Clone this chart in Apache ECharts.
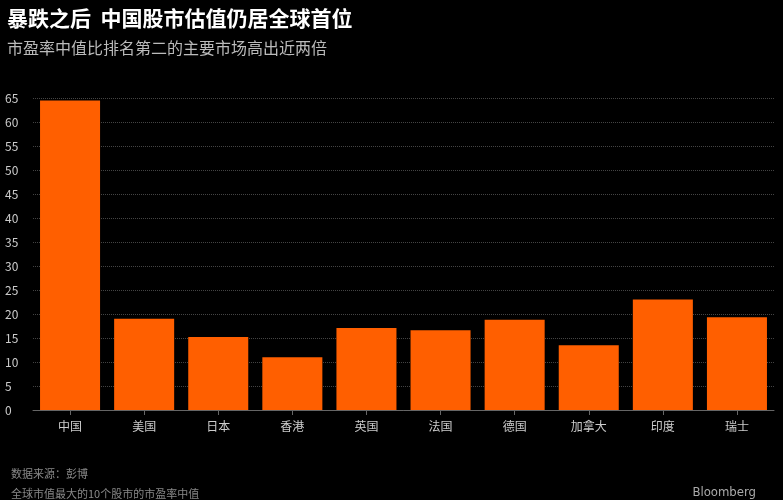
<!DOCTYPE html><html><head><meta charset="utf-8">
<script src="https://cdn.jsdelivr.net/npm/echarts@6/dist/echarts.min.js"></script>
<style>html,body{margin:0;background:#000}#c{width:783px;height:500px}</style></head><body><div id="c"></div>
<script>
const categories=['中国','美国','日本','香港','英国','法国','德国','加拿大','印度','瑞士'];
const peValues=[64.5,19,15.2,11,17.1,16.6,18.8,13.5,23,19.3];
const f='"Noto Sans CJK SC", sans-serif';
const chart=echarts.init(document.getElementById('c'));
chart.setOption({
 backgroundColor:'#000',animation:false,
 title:[
  {text:'暴跌之后  中国股市估值仍居全球首位',left:2,top:3,textStyle:{color:'#fff',fontSize:21,fontWeight:'bold',fontFamily:f}},
  {text:'市盈率中值比排名第二的主要市场高出近两倍',left:2,top:35,textStyle:{color:'#bbb',fontSize:16,fontWeight:'normal',fontFamily:f}},
  {text:'数据来源：彭博',left:6,top:463,textStyle:{color:'#888',fontSize:11,fontWeight:'normal',fontFamily:f}},
  {text:'全球市值最大的10个股市的市盈率中值',left:6,top:483,textStyle:{color:'#888',fontSize:11,fontWeight:'normal',fontFamily:f}},
  {text:'Bloomberg',right:22,top:481,textStyle:{color:'#aaa',fontSize:13,fontWeight:'normal',fontFamily:'"Liberation Sans Narrow", "DejaVu Sans Condensed", sans-serif'}}
 ],
 grid:{left:33,right:9,top:98,bottom:90},
 xAxis:{type:'category',data:categories,axisLine:{lineStyle:{color:'#666'}},axisTick:{show:true,alignWithLabel:true,lineStyle:{color:'#666'}},
  axisLabel:{color:'#ccc',fontSize:12,fontFamily:f,margin:10}},
 yAxis:{type:'value',min:0,max:65,interval:5,axisLabel:{color:'#ccc',fontSize:12,fontFamily:f,margin:28,align:'left'},
  splitLine:{lineStyle:{color:'#444',type:'dotted'}},axisLine:{show:false}},
 series:[{type:'bar',data:peValues,barCategoryGap:'19%',itemStyle:{color:'#ff5f00'}}]
});
</script></body></html>
